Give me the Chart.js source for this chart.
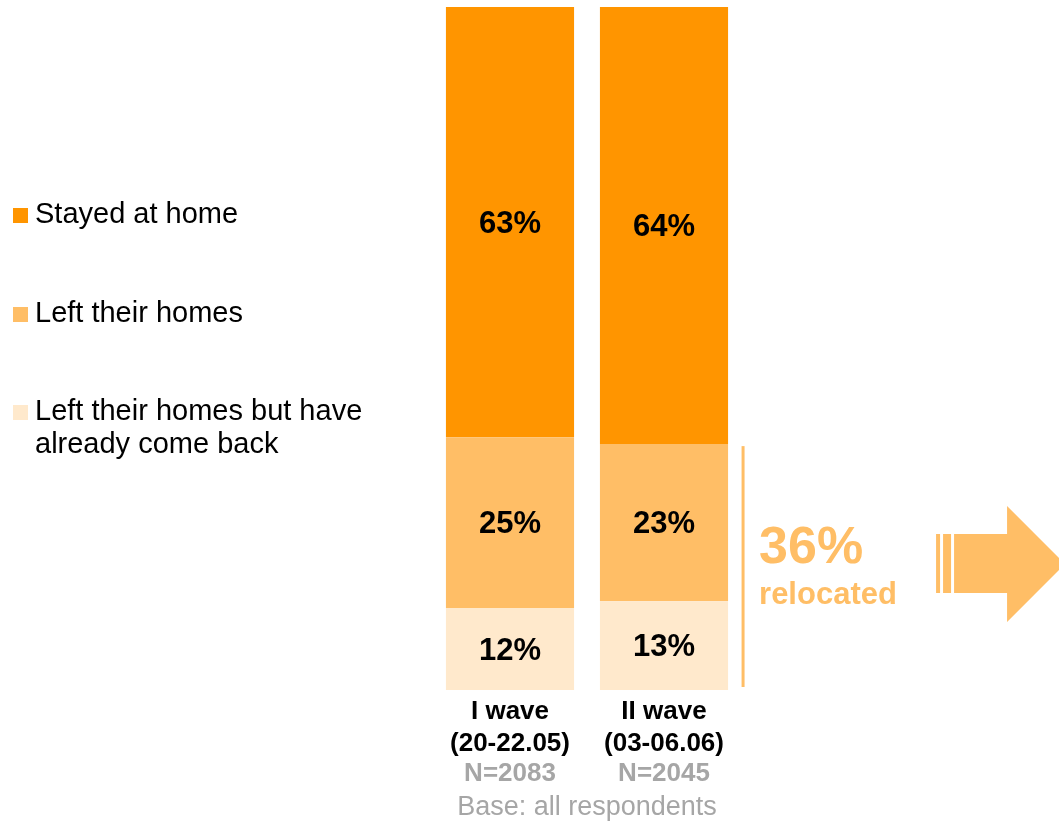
<!DOCTYPE html>
<html>
<head>
<meta charset="utf-8">
<script src="https://cdn.jsdelivr.net/npm/chart.js"></script>
<style>
    body { margin: 0; background: #fff; }
    #wrap { width: 1059px; height: 822px; position: relative; }
</style>
</head>
<body>
<div id="wrap"><canvas id="myChart"></canvas></div>
<script>
// Waves (x categories) and their sub-labels
const waves = ['I wave', 'II wave'];
const waveDates = ['(20-22.05)', '(03-06.06)'];
const waveN = ['N=2083', 'N=2045'];

// Shares in %, stacked bottom -> top
const cameBack = [12, 13];      // left their homes but have already come back
const leftHome = [25, 23];      // left their homes
const stayedHome = [63, 64];    // stayed at home

const legendLabels = [
    ['Stayed at home'],
    ['Left their homes'],
    ['Left their homes but have', 'already come back']
];

const DARK = '#FF9500';
const MID = '#FFBE66';
const LIGHT = '#FFE9CC';
const FONT = '"Liberation Sans", Arial, sans-serif';

// draws percent labels, category labels, legend and the "relocated" note
const decorations = {
    id: 'decorations',
    afterDraw(chart) {
        const ctx = chart.ctx;
        const x = chart.scales.x;
        const y = chart.scales.y;
        ctx.save();

        // percent labels in each segment
        ctx.textAlign = 'center';
        ctx.textBaseline = 'middle';
        ctx.fillStyle = '#000';
        ctx.font = 'bold 31px ' + FONT;
        chart.data.datasets.forEach((ds, i) => {
            chart.getDatasetMeta(i).data.forEach((bar, j) => {
                const mid = (bar.y + bar.base) / 2;
                ctx.fillText(ds.data[j] + '%', bar.x, mid + 2);
            });
        });

        // category labels under the bars
        waves.forEach((w, j) => {
            const cx = x.getPixelForValue(j);
            ctx.fillStyle = '#000';
            ctx.font = 'bold 26px ' + FONT;
            ctx.fillText(w, cx, 712);
            ctx.fillText(waveDates[j], cx, 744);
            ctx.fillStyle = '#A6A6A6';
            ctx.fillText(waveN[j], cx, 774);
        });
        ctx.font = '27px ' + FONT;
        ctx.fillStyle = '#A6A6A6';
        ctx.fillText('Base: all respondents', (x.getPixelForValue(0) + x.getPixelForValue(1)) / 2, 808);

        // legend on the left
        const legendColors = [DARK, MID, LIGHT];
        const legendY = [215, 314, 412];
        ctx.textAlign = 'left';
        ctx.font = '29px ' + FONT;
        legendLabels.forEach((lines, i) => {
            ctx.fillStyle = legendColors[i];
            ctx.fillRect(13, legendY[i] - 7, 15, 15);
            ctx.fillStyle = '#000';
            lines.forEach((t, k) => ctx.fillText(t, 35, legendY[i] + k * 33));
        });

        // bracket line for wave II relocated share
        const relocated = leftHome[1] + cameBack[1];
        const bar2 = chart.getDatasetMeta(0).data[1];
        const lx = bar2.x + bar2.width / 2 + 15;
        ctx.strokeStyle = MID;
        ctx.lineWidth = 3;
        ctx.beginPath();
        ctx.moveTo(lx, y.getPixelForValue(relocated) + 2);
        ctx.lineTo(lx, y.getPixelForValue(0) - 3);
        ctx.stroke();

        ctx.fillStyle = MID;
        ctx.textBaseline = 'alphabetic';
        ctx.font = 'bold 52px ' + FONT;
        ctx.fillText(relocated + '%', lx + 16, 563);
        ctx.font = 'bold 31px ' + FONT;
        ctx.fillText('relocated', lx + 16, 604);

        // arrow pointing right
        const ax = lx + 193;
        ctx.fillRect(ax, 534, 4, 59);
        ctx.fillRect(ax + 7, 534, 8, 59);
        ctx.beginPath();
        ctx.moveTo(ax + 18, 534);
        ctx.lineTo(ax + 71, 534);
        ctx.lineTo(ax + 71, 506);
        ctx.lineTo(ax + 129, 564);
        ctx.lineTo(ax + 71, 622);
        ctx.lineTo(ax + 71, 593);
        ctx.lineTo(ax + 18, 593);
        ctx.closePath();
        ctx.fill();

        ctx.restore();
    }
};

new Chart(document.getElementById('myChart'), {
    type: 'bar',
    data: {
        labels: waves,
        datasets: [
            { label: legendLabels[2].join(' '), data: cameBack, backgroundColor: LIGHT },
            { label: legendLabels[1][0], data: leftHome, backgroundColor: MID },
            { label: legendLabels[0][0], data: stayedHome, backgroundColor: DARK }
        ]
    },
    options: {
        responsive: true,
        maintainAspectRatio: false,
        animation: false,
        layout: {
            padding: { left: 433, right: 318, top: 7, bottom: 132 }
        },
        datasets: {
            bar: { categoryPercentage: 1, barPercentage: 0.832, borderWidth: 0 }
        },
        scales: {
            x: { stacked: true, display: false },
            y: { stacked: true, display: false, min: 0, max: 100 }
        },
        plugins: {
            legend: { display: false },
            tooltip: { enabled: false }
        }
    },
    plugins: [decorations]
});
</script>
</body>
</html>
